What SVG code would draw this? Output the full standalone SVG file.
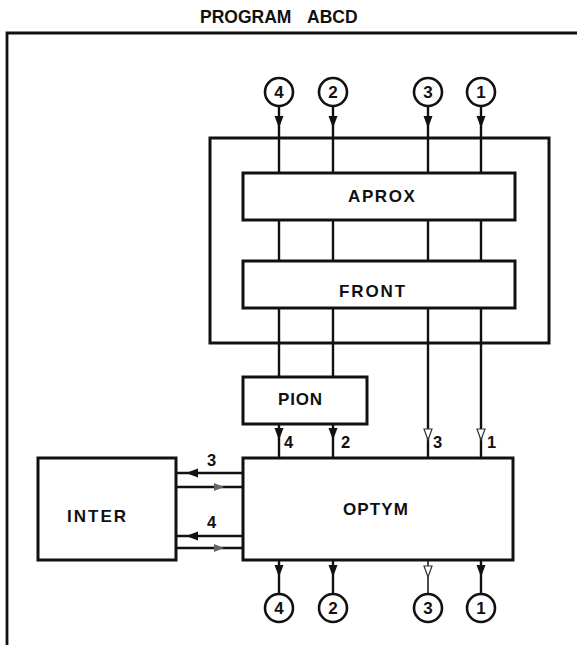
<svg xmlns="http://www.w3.org/2000/svg" width="577" height="645" viewBox="0 0 577 645">
<style>
.box{fill:#fff;stroke:#111;stroke-width:3}
.frame{fill:none;stroke:#111;stroke-width:2.8}
.ln{fill:none;stroke:#111;stroke-width:2.4}
.lab{font-family:"Liberation Sans",Arial,sans-serif;font-weight:bold;font-size:17px;fill:#111}
.num{font-family:"Liberation Sans",Arial,sans-serif;font-weight:bold;font-size:16.5px;fill:#111}
.cnum{font-family:"Liberation Sans",Arial,sans-serif;font-weight:bold;font-size:17px;fill:#111;text-anchor:middle}
.circ{fill:#fff;stroke:#111;stroke-width:2.6}
.title{font-family:"Liberation Sans",Arial,sans-serif;font-weight:bold;font-size:17.5px;fill:#111}
</style>
<defs>
<path id="hd" d="M0,0 L-4.5,-12 L4.5,-12 Z" fill="#111"/>
<path id="hl" d="M0,0 L-4,-11 L4,-11 Z" fill="#fff" stroke="#333" stroke-width="1.2"/>
<path id="hL" d="M0,0 L12,-4.5 L12,4.5 Z" fill="#111"/>
<path id="hR" d="M0,0 L-10,-4 L-10,4 Z" fill="#666"/>
</defs>
<rect width="577" height="645" fill="#fff"/>
<text class="title" x="200" y="23">PROGRAM<tspan x="307">ABCD</tspan></text>
<path class="frame" d="M7,645 V33 H577"/>
<g id="connectors">
<line class="ln" x1="279" y1="106" x2="279" y2="377"/>
<line class="ln" x1="333" y1="106" x2="333" y2="377"/>
<line class="ln" x1="428" y1="106" x2="428" y2="458"/>
<line class="ln" x1="481" y1="106" x2="481" y2="458"/>
<use href="#hd" x="279" y="128"/>
<use href="#hd" x="333" y="128"/>
<use href="#hd" x="428" y="128"/>
<use href="#hd" x="481" y="128"/>
<line class="ln" x1="279" y1="424" x2="279" y2="458"/>
<line class="ln" x1="333" y1="424" x2="333" y2="458"/>
<use href="#hd" x="279" y="440"/>
<use href="#hd" x="333" y="440"/>
<use href="#hl" x="428" y="440"/>
<use href="#hl" x="481" y="440"/>
<text class="num" x="284" y="448">4</text>
<text class="num" x="341" y="448">2</text>
<text class="num" x="433" y="448">3</text>
<text class="num" x="487" y="448">1</text>
<line class="ln" x1="176" y1="473" x2="243" y2="473"/>
<line class="ln" x1="176" y1="487" x2="243" y2="487"/>
<line class="ln" x1="176" y1="536" x2="243" y2="536"/>
<line class="ln" x1="176" y1="548" x2="243" y2="548"/>
<use href="#hL" x="186" y="473"/>
<use href="#hR" x="224" y="487"/>
<use href="#hL" x="186" y="536"/>
<use href="#hR" x="224" y="548"/>
<text class="num" x="207" y="466">3</text>
<text class="num" x="207" y="528">4</text>
<line class="ln" x1="279" y1="560" x2="279" y2="594"/>
<line class="ln" x1="333" y1="560" x2="333" y2="594"/>
<line class="ln" x1="428" y1="560" x2="428" y2="594" style="stroke-width:1.5"/>
<line class="ln" x1="481" y1="560" x2="481" y2="594"/>
<use href="#hd" x="279" y="577"/>
<use href="#hd" x="333" y="577"/>
<use href="#hl" x="428" y="577"/>
<use href="#hd" x="481" y="577"/>
</g>
<g id="in4"><circle class="circ" cx="279" cy="92" r="14"/><text class="cnum" x="279" y="98">4</text></g>
<g id="in2"><circle class="circ" cx="333" cy="92" r="14"/><text class="cnum" x="333" y="98">2</text></g>
<g id="in3"><circle class="circ" cx="428" cy="92" r="14"/><text class="cnum" x="428" y="98">3</text></g>
<g id="in1"><circle class="circ" cx="481" cy="92" r="14"/><text class="cnum" x="481" y="98">1</text></g>
<g id="container"><rect x="210" y="138" width="339" height="205" fill="none" stroke="#111" stroke-width="3"/></g>
<g id="aprox"><rect class="box" x="243" y="173" width="272" height="47"/><text class="lab" x="348" y="202" style="letter-spacing:1.6px">APROX</text></g>
<g id="front"><rect class="box" x="243" y="261" width="272" height="47"/><text class="lab" x="339" y="297" style="letter-spacing:1.9px">FRONT</text></g>
<g id="pion"><rect class="box" x="243" y="377" width="124" height="47"/><text class="lab" x="278" y="405" style="letter-spacing:0.8px">PION</text></g>
<g id="optym"><rect class="box" x="243" y="458" width="270" height="102"/><text class="lab" x="343" y="515" style="letter-spacing:1.1px">OPTYM</text></g>
<g id="inter"><rect class="box" x="38" y="458" width="138" height="102"/><text class="lab" x="67" y="522" style="letter-spacing:2px">INTER</text></g>
<g id="out4"><circle class="circ" cx="279" cy="608" r="14"/><text class="cnum" x="279" y="614">4</text></g>
<g id="out2"><circle class="circ" cx="333" cy="608" r="14"/><text class="cnum" x="333" y="614">2</text></g>
<g id="out3"><circle class="circ" cx="428" cy="608" r="14"/><text class="cnum" x="428" y="614">3</text></g>
<g id="out1"><circle class="circ" cx="481" cy="608" r="14"/><text class="cnum" x="481" y="614">1</text></g>
</svg>
